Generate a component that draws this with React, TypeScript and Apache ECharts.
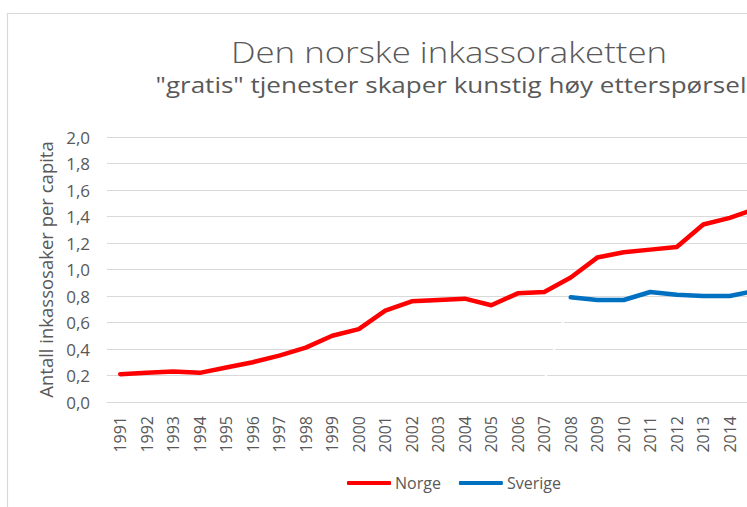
import React, { useEffect, useRef } from "react";
import * as echarts from "echarts";

const years = [
  "1991", "1992", "1993", "1994", "1995", "1996", "1997", "1998", "1999", "2000",
  "2001", "2002", "2003", "2004", "2005", "2006", "2007", "2008", "2009", "2010",
  "2011", "2012", "2013", "2014", "2015",
];
const norge = [
  0.21, 0.22, 0.23, 0.22, 0.26, 0.30, 0.35, 0.41, 0.50, 0.55,
  0.69, 0.76, 0.77, 0.78, 0.73, 0.82, 0.83, 0.94, 1.09, 1.13,
  1.15, 1.17, 1.34, 1.39, 1.46,
];
const sverige = [
  null, null, null, null, null, null, null, null, null, null,
  null, null, null, null, null, null, null, 0.79, 0.77, 0.77,
  0.83, 0.81, 0.80, 0.80, 0.84,
];
const sverigeHidden = [
  null, null, null, null, null, null, null, null, null, null,
  null, null, null, null, null, null, 0.16, 0.79, null, null,
  null, null, null, null, null,
];
const yMin = 0;
const yMax = 2;
const yStep = 0.2;
const visibleLabelCount = 24;
const titleText = "Den norske inkassoraketten";
const subtitleText = '"gratis" tjenester skaper kunstig høy etterspørsel';
const yName = "Antall inkassosaker per capita";

const FONT = "'Open Sans', 'Liberation Sans', sans-serif";
const GREY = "#595959";

export default function App() {
  const ref = useRef<HTMLDivElement>(null);
  useEffect(() => {
    document.body.style.margin = "0";
    if (!ref.current) return;
    const chart = echarts.init(ref.current, undefined, { renderer: "svg" });
    chart.setOption({
      animation: false,
      backgroundColor: "#ffffff",
      textStyle: { fontFamily: FONT },
      graphic: [
        {
          type: "rect",
          z: -1,
          shape: { x: 7.5, y: 13.5, width: 900, height: 600 },
          style: { fill: "none", stroke: "#d9d9d9", lineWidth: 1.2 },
        },
        {
          type: "text",
          x: 449,
          y: 52,
          scaleX: 1.2,
          style: {
            text: titleText,
            fontFamily: FONT,
            fontSize: 29,
            fontWeight: 300,
            fill: GREY,
            align: "center",
            verticalAlign: "middle",
          },
        },
        {
          type: "text",
          x: 451,
          y: 85,
          scaleX: 1.24,
          style: {
            text: subtitleText,
            fontFamily: FONT,
            fontSize: 21,
            fill: GREY,
            align: "center",
            verticalAlign: "middle",
          },
        },
      ],
      legend: {
        data: [
          { name: "Norge", icon: "roundRect" },
          { name: "Sverige", icon: "roundRect" },
        ],
        left: 342,
        top: 470,
        itemWidth: 44,
        itemHeight: 4,
        itemGap: 18,
        textStyle: { fontFamily: FONT, fontSize: 16, color: GREY, padding: [0, 0, 0, -1] },
      },
      grid: {
        left: 107,
        right: -22.5,
        top: 137,
        bottom: 105,
        outerBoundsMode: "none",
        containLabel: false,
      },
      xAxis: {
        type: "category",
        data: years,
        boundaryGap: true,
        axisTick: { show: false },
        axisLine: { lineStyle: { color: "#d9d9d9", width: 1 } },
        axisLabel: {
          rotate: 90,
          interval: (idx: number) => idx < visibleLabelCount,
          margin: 14,
          fontSize: 16,
          color: GREY,
          fontFamily: FONT,
        },
      },
      yAxis: {
        type: "value",
        min: yMin,
        max: yMax,
        interval: yStep,
        axisLine: { show: false },
        axisTick: { show: false },
        splitLine: { lineStyle: { color: "#d9d9d9", width: 1 } },
        axisLabel: {
          margin: 17,
          fontSize: 17,
          color: GREY,
          fontFamily: FONT,
          formatter: (v: number) => v.toFixed(1).replace(".", ","),
        },
        name: yName,
        nameLocation: "middle",
        nameGap: 50,
        nameTextStyle: { fontSize: 18.5, color: GREY, fontFamily: FONT },
      },
      series: [
        {
          name: "SverigeHidden",
          type: "line",
          data: sverigeHidden,
          symbol: "none",
          silent: true,
          lineStyle: { color: "#ffffff", width: 2.5 },
          itemStyle: { color: "#ffffff" },
          z: 1,
        },
        {
          name: "Norge",
          type: "line",
          data: norge,
          symbol: "none",
          lineStyle: { color: "#ff0000", width: 4.5, join: "round", cap: "round" },
          itemStyle: { color: "#ff0000" },
          z: 3,
        },
        {
          name: "Sverige",
          type: "line",
          data: sverige,
          symbol: "none",
          lineStyle: { color: "#0070c0", width: 4.5, join: "round", cap: "round" },
          itemStyle: { color: "#0070c0" },
          z: 3,
        },
      ],
    });
    return () => chart.dispose();
  }, []);
  return <div ref={ref} style={{ width: 747, height: 507 }} />;
}
